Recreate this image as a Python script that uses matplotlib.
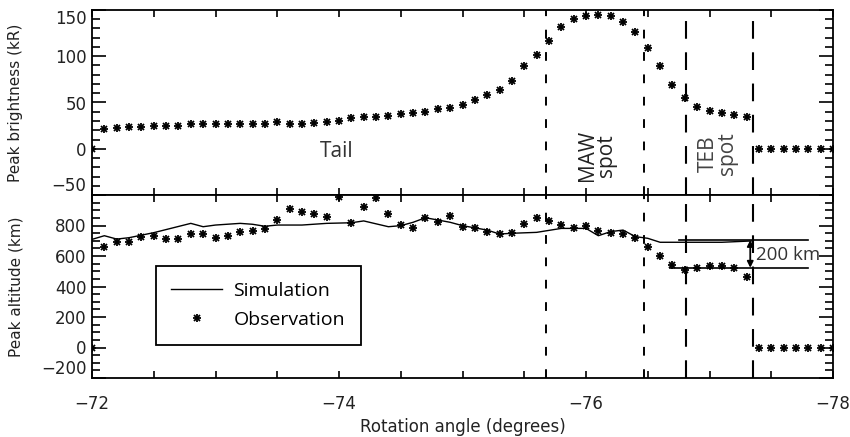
import numpy as np
import matplotlib
matplotlib.use('Agg')
import matplotlib.pyplot as plt
from matplotlib.ticker import MultipleLocator, FuncFormatter
from matplotlib.lines import Line2D

# Observations, one point every 0.1 degree (0 where there is no data)
angle = [-72.0, -72.1, -72.2, -72.3, -72.4, -72.5, -72.6, -72.7, -72.8, -72.9,
         -73.0, -73.1, -73.2, -73.3, -73.4, -73.5, -73.6, -73.7, -73.8, -73.9,
         -74.0, -74.1, -74.2, -74.3, -74.4, -74.5, -74.6, -74.7, -74.8, -74.9,
         -75.0, -75.1, -75.2, -75.3, -75.4, -75.5, -75.6, -75.7, -75.8, -75.9,
         -76.0, -76.1, -76.2, -76.3, -76.4, -76.5, -76.6, -76.7, -76.8, -76.9,
         -77.0, -77.1, -77.2, -77.3, -77.4, -77.5, -77.6, -77.7, -77.8, -77.9,
         -78.0]
brightness = [0, 21, 22, 23, 24, 24.5, 24.5, 25, 27, 27,
              27, 27, 27, 27, 27, 28.5, 27, 27, 28, 29,
              30.5, 33, 34, 34, 35, 37.5, 39, 39.5, 42.5, 44,
              47, 53, 58, 64, 73, 89.5, 101, 116, 132, 140,
              144, 145, 143, 137, 126.5, 108.5, 89, 69, 54.5, 45,
              41, 38.5, 36.5, 34, 0, 0, 0, 0, 0, 0,
              0]
altitude = [0, 657, 694, 694, 723, 733, 709, 709, 744, 744,
            720, 731, 755, 764, 775, 836, 906, 886, 875, 854,
            989, 814, 923, 982, 873, 803, 786, 847, 825, 864,
            792, 786, 755, 744, 753, 808, 847, 830, 803, 786,
            797, 764, 753, 744, 716, 661, 602, 541, 508, 519,
            536, 536, 523, 464, 0, 0, 0, 0, 0, 0,
            0]

# Simulated peak altitude
sim_angle = [-72.0, -72.1, -72.2, -72.3, -72.5, -72.8, -72.9, -73.0, -73.2, -73.3,
             -73.4, -73.5, -73.7, -73.9, -74.1, -74.2, -74.4, -74.5, -74.6, -74.7,
             -74.8, -74.9, -75.0, -75.2, -75.3, -75.4, -75.6, -75.8, -76.0, -76.1,
             -76.2, -76.3, -76.4, -76.5, -76.6, -76.75, -77.1, -77.35]
sim_alt = [709, 733, 711, 720, 753, 814, 792, 803, 814, 808,
           795, 803, 803, 814, 818, 830, 792, 799, 821, 851,
           836, 821, 799, 770, 744, 749, 755, 781, 781, 733,
           760, 770, 727, 716, 690, 690, 690, 699]

# Region boundaries
short_dash = [-75.68, -76.47]
long_dash = [-76.81, -77.35]

# 200 km marker
sim_level = 705
obs_level = 523

text_font = 'Open Sans'

fig = plt.figure(figsize=(8.5, 4.37), dpi=100)
ax1 = fig.add_axes([92 / 850, 1 - 195 / 437, 741 / 850, 185 / 437])
ax2 = fig.add_axes([92 / 850, 1 - 378 / 437, 741 / 850, 183 / 437])

# asterisk drawn as an x on top of a +
cross = dict(marker='x', ms=5, mew=1.3, color='black', ls='none')
plus = dict(marker='+', ms=6, mew=1.3, color='black', ls='none')

ax1.plot(angle, brightness, **cross)
ax1.plot(angle, brightness, **plus)
ax2.plot(sim_angle, sim_alt, color='black', lw=1)
ax2.plot(angle, altitude, **cross)
ax2.plot(angle, altitude, **plus)

for ax in (ax1, ax2):
    for xv in short_dash:
        ax.axvline(xv, color='black', lw=1.4, ls=(0, (4.5, 7)))
    for xv in long_dash:
        ax.axvline(xv, color='black', lw=1.5, ls=(0, (8.5, 6.5)))
    ax.set_xlim(-72, -78)
    ax.xaxis.set_major_locator(MultipleLocator(0.5))
    ax.tick_params(axis='x', which='both', direction='in', top=True, bottom=True,
                   length=5, width=1.2, labelsize=12, pad=12, labelcolor='#222222')
    ax.tick_params(axis='y', which='major', direction='in', left=True, right=True,
                   length=10, width=1.2, labelsize=12, pad=4, labelcolor='#222222')
    ax.tick_params(axis='y', which='minor', direction='in', left=True, right=True,
                   length=6, width=1.2)
    for sp in ax.spines.values():
        sp.set_linewidth(1.3)

# top panel
ax1.set_ylim(-50, 150)
ax1.set_yticks([-50, 0, 50, 100, 150])
ax1.yaxis.set_minor_locator(MultipleLocator(10))
ax1.tick_params(axis='x', labelbottom=False)
ax1.set_ylabel('Peak brightness (kR)', fontsize=11, color='#222222')
ax1.yaxis.set_label_coords(-0.093, 0.5)
ylabs = ax1.get_yticklabels()
ylabs[0].set_va('bottom')
ylabs[-1].set_va('top')

ax1.text(-73.98, -3, 'Tail', fontsize=15, family=text_font, color='#333333',
         ha='center', va='center')
ax1.text(-76.09, -7, 'MAW\nspot', fontsize=15, family=text_font, color='#222222',
         rotation=90, ha='center', va='center', linespacing=0.85)
ax1.text(-77.07, -5, 'TEB\nspot', fontsize=15, family=text_font, color='#444444',
         rotation=90, ha='center', va='center', linespacing=0.85)

# bottom panel
ax2.set_ylim(-200, 1000)
ax2.set_yticks([-200, 0, 200, 400, 600, 800, 1000])
ax2.set_yticklabels(['−200', '0', '200', '400', '600', '800', ''])
ax2.yaxis.set_minor_locator(MultipleLocator(50))
ax2.get_yticklabels()[0].set_va('bottom')
ax2.xaxis.set_major_formatter(FuncFormatter(
    lambda v, p: f'{v:.0f}'.replace('-', '−') if abs(v / 2 - round(v / 2)) < 1e-6 else ''))
ax2.set_xlabel('Rotation angle (degrees)', fontsize=12, labelpad=4, color='#222222')
ax2.set_ylabel('Peak altitude (km)', fontsize=11, color='#222222')
ax2.yaxis.set_label_coords(-0.093, 0.5)

ax2.plot([-76.75, -77.8], [sim_level, sim_level], color='black', lw=1.2)
ax2.plot([-76.68, -77.8], [obs_level, obs_level], color='black', lw=1.2)
ax2.annotate('', xy=(-77.33, obs_level), xytext=(-77.33, sim_level),
             arrowprops=dict(arrowstyle='<|-|>', color='black', lw=1.3,
                             mutation_scale=9, shrinkA=0, shrinkB=0))
ax2.text(-77.38, 607, '200 km', fontsize=13.5, family=text_font, color='#333333',
         ha='left', va='center')

handles = [Line2D([], [], color='black', lw=1),
           (Line2D([], [], **cross), Line2D([], [], **plus))]
leg = ax2.legend(handles, ['Simulation', 'Observation'], loc='upper left',
                 bbox_to_anchor=(0.086, 0.612), borderaxespad=0, fancybox=False,
                 edgecolor='black', framealpha=1, handlelength=2.6,
                 handletextpad=0.6, borderpad=0.8, labelspacing=0.6,
                 prop={'family': text_font, 'size': 14})
leg.get_frame().set_linewidth(1.3)

fig.savefig('out.png', dpi=100)
